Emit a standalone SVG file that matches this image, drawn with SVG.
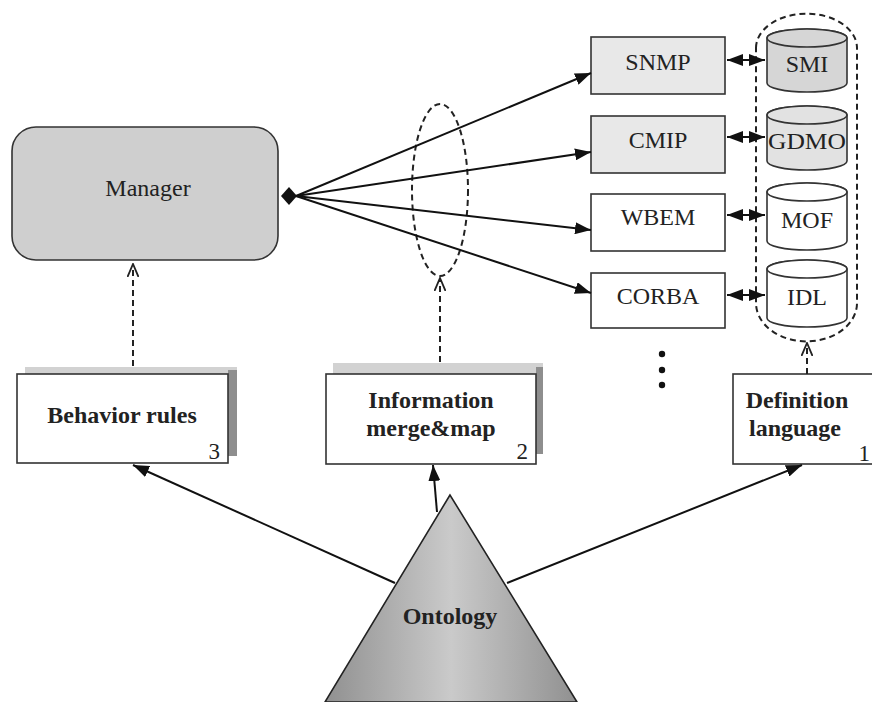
<svg xmlns="http://www.w3.org/2000/svg" width="872" height="702" viewBox="0 0 872 702">
  <style>
    .lbl { font-family: "Liberation Serif", "Times New Roman", serif; font-size: 24px; fill: #222; text-anchor: middle; }
    .bold { font-weight: bold; }
    .num { font-family: "Liberation Serif", "Times New Roman", serif; font-size: 23px; fill: #222; text-anchor: end; }
    .box { stroke: #333; stroke-width: 1.6; }
    .conn { fill: none; stroke: #111; stroke-width: 2; }
    .dash { fill: none; stroke: #222; stroke-width: 2; stroke-dasharray: 6 4; }
    .shadow-top { fill: #d2d2d2; }
    .shadow-side { fill: #8e8e8e; }
  </style>
  <defs>
    <marker id="arrowBig" viewBox="0 0 16 12" refX="16" refY="6" markerWidth="16" markerHeight="12" markerUnits="userSpaceOnUse" orient="auto-start-reverse">
      <path d="M0,0 L16,6 L0,12 Z" fill="#111"/>
    </marker>
    <marker id="open" viewBox="0 0 14 12" refX="13" refY="6" markerWidth="14" markerHeight="12" markerUnits="userSpaceOnUse" orient="auto">
      <path d="M0,0.5 L13,6 L0,11.5" fill="none" stroke="#222" stroke-width="1.8"/>
    </marker>
    <linearGradient id="ontoGrad" x1="0" y1="0" x2="1" y2="0">
      <stop offset="0" stop-color="#909090"/>
      <stop offset="0.5" stop-color="#cacaca"/>
      <stop offset="1" stop-color="#909090"/>
    </linearGradient>
  </defs>

  <rect width="872" height="702" fill="#ffffff"/>

  <!-- Manager -->
  <g id="manager">
    <rect class="box" x="12" y="127" width="266" height="133" rx="24" ry="24" fill="#cfcfcf"/>
    <text class="lbl" x="148" y="196">Manager</text>
  </g>

  <!-- Protocol boxes -->
  <g id="snmp">
    <rect class="box" x="591" y="37" width="134" height="57" fill="#e8e8e8"/>
    <text class="lbl" x="658" y="70">SNMP</text>
  </g>
  <g id="cmip">
    <rect class="box" x="591" y="116" width="134" height="57" fill="#e8e8e8"/>
    <text class="lbl" x="658" y="148">CMIP</text>
  </g>
  <g id="wbem">
    <rect class="box" x="591" y="194" width="134" height="57" fill="#ffffff"/>
    <text class="lbl" x="658" y="225">WBEM</text>
  </g>
  <g id="corba">
    <rect class="box" x="591" y="273" width="134" height="55" fill="#ffffff"/>
    <text class="lbl" x="658" y="304">CORBA</text>
  </g>

  <!-- Definition stores -->
  <g id="smi">
    <path class="box" d="M767,38 A40,9 0 0 1 847,38 V83 A40,9 0 0 1 767,83 Z" fill="#d6d6d6"/>
    <ellipse class="box" cx="807" cy="38" rx="40" ry="9" fill="#d6d6d6"/>
    <text class="lbl" x="807" y="72">SMI</text>
  </g>
  <g id="gdmo">
    <path class="box" d="M767,115 A40,9 0 0 1 847,115 V161 A40,9 0 0 1 767,161 Z" fill="#e2e2e2"/>
    <ellipse class="box" cx="807" cy="115" rx="40" ry="9" fill="#e2e2e2"/>
    <text class="lbl" x="807" y="149" textLength="78" lengthAdjust="spacingAndGlyphs">GDMO</text>
  </g>
  <g id="mof">
    <path class="box" d="M767,192 A40,9 0 0 1 847,192 V241 A40,9 0 0 1 767,241 Z" fill="#ffffff"/>
    <ellipse class="box" cx="807" cy="192" rx="40" ry="9" fill="#ffffff"/>
    <text class="lbl" x="807" y="228">MOF</text>
  </g>
  <g id="idl">
    <path class="box" d="M767,269 A40,9 0 0 1 847,269 V318 A40,9 0 0 1 767,318 Z" fill="#ffffff"/>
    <ellipse class="box" cx="807" cy="269" rx="40" ry="9" fill="#ffffff"/>
    <text class="lbl" x="807" y="305">IDL</text>
  </g>

  <!-- Grouping outlines -->
  <g id="store-group">
    <path class="dash" d="M756,48 A50,34 0 0 1 857,48 V303 A50,38 0 0 1 756,303 Z"/>
  </g>
  <g id="mapping-group">
    <ellipse class="dash" cx="440" cy="190" rx="28" ry="86"/>
  </g>

  <!-- Continuation dots -->
  <g id="more">
    <circle cx="662" cy="354" r="3.2" fill="#111"/>
    <circle cx="662" cy="370" r="3.2" fill="#111"/>
    <circle cx="662" cy="385" r="3.2" fill="#111"/>
  </g>

  <!-- Layer boxes -->
  <g id="behavior-rules">
    <rect class="shadow-top" x="25" y="367" width="212" height="89"/>
    <rect class="shadow-side" x="228" y="370" width="9" height="86"/>
    <rect class="box" x="17" y="374" width="211" height="89" fill="#ffffff"/>
    <text class="lbl bold" x="122" y="423">Behavior rules</text>
    <text class="num" x="220" y="459">3</text>
  </g>
  <g id="information-merge">
    <rect class="shadow-top" x="333" y="363" width="210" height="91"/>
    <rect class="shadow-side" x="536" y="367" width="7" height="87"/>
    <rect class="box" x="326" y="374" width="210" height="90" fill="#ffffff"/>
    <text class="lbl bold" x="431" y="408">Information</text>
    <text class="lbl bold" x="431" y="436">merge&amp;map</text>
    <text class="num" x="528" y="459">2</text>
  </g>
  <g id="definition-language">
    <rect class="box" x="733" y="374" width="140" height="90" fill="#ffffff"/>
    <text class="lbl bold" x="797" y="408">Definition</text>
    <text class="lbl bold" x="795" y="436">language</text>
    <text class="num" x="870" y="461">1</text>
  </g>

  <!-- Ontology -->
  <g id="ontology">
    <path d="M450,495 L325,702 L577,702 Z" fill="url(#ontoGrad)" stroke="#222" stroke-width="1.6"/>
    <text class="lbl bold" x="450" y="624">Ontology</text>
  </g>

  <!-- Connectors -->
  <g id="connectors">
    <path d="M281,196 L289,187 L297,196 L289,205 Z" fill="#111"/>
    <path class="conn" d="M296,196 L591,73" marker-end="url(#arrowBig)"/>
    <path class="conn" d="M296,196 L591,152" marker-end="url(#arrowBig)"/>
    <path class="conn" d="M296,196 L591,230" marker-end="url(#arrowBig)"/>
    <path class="conn" d="M296,196 L591,293" marker-end="url(#arrowBig)"/>

    <path class="conn" d="M727,60 L765,60" marker-start="url(#arrowBig)" marker-end="url(#arrowBig)"/>
    <path class="conn" d="M727,137 L765,137" marker-start="url(#arrowBig)" marker-end="url(#arrowBig)"/>
    <path class="conn" d="M727,215 L765,215" marker-start="url(#arrowBig)" marker-end="url(#arrowBig)"/>
    <path class="conn" d="M727,295 L765,295" marker-start="url(#arrowBig)" marker-end="url(#arrowBig)"/>

    <path class="dash" d="M133,366 L133,264" marker-end="url(#open)"/>
    <path class="dash" d="M440,362 L440,278" marker-end="url(#open)"/>
    <path class="dash" d="M807,374 L807,343" marker-end="url(#open)"/>

    <path class="conn" d="M395,583 L133,465" marker-end="url(#arrowBig)"/>
    <path class="conn" d="M437,512 L433,465" marker-end="url(#arrowBig)"/>
    <path class="conn" d="M507,583 L802,465" marker-end="url(#arrowBig)"/>
  </g>
</svg>
